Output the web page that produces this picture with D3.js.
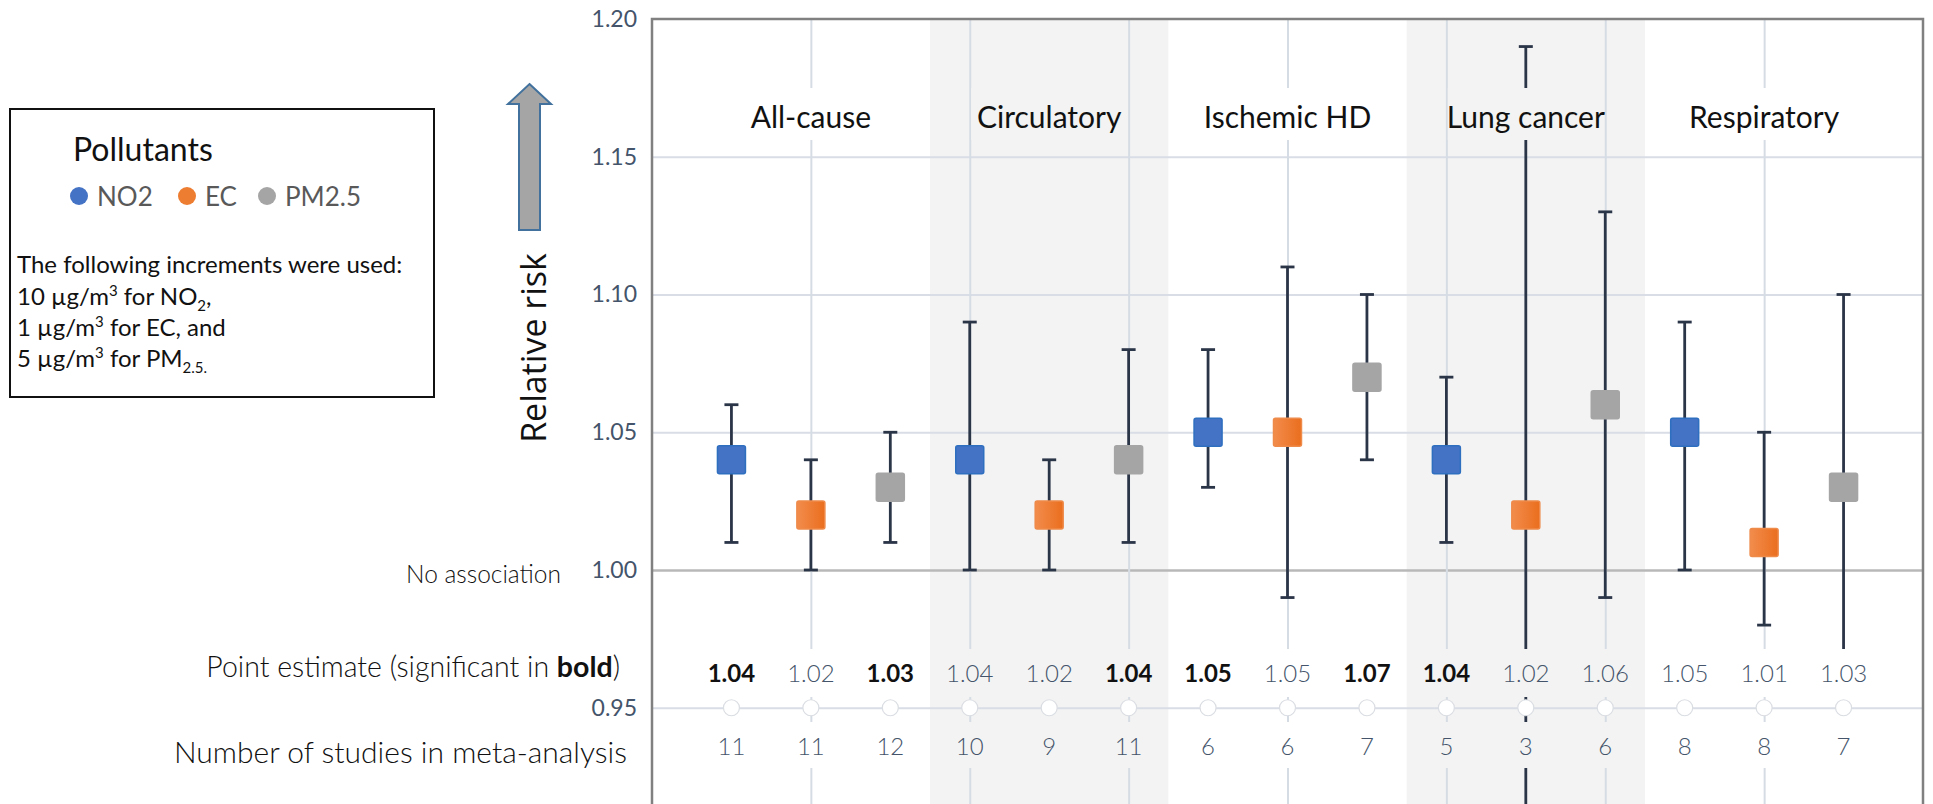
<!DOCTYPE html>
<html>
<head>
<meta charset="utf-8">
<script src="https://cdn.jsdelivr.net/npm/d3@7"></script>
<style>
  body { margin: 0; background: #fff; }
  svg { display: block; font-family: Lato, "Open Sans", sans-serif; }
</style>
</head>
<body>
<div id="chart"></div>
<script>
// data
var categories = ["All-cause", "Circulatory", "Ischemic HD", "Lung cancer", "Respiratory"];
var pollutants = ["NO2", "EC", "PM2.5"];
var shaded = ["Circulatory", "Lung cancer"];
var estimates = [1.04, 1.02, 1.03, 1.04, 1.02, 1.04, 1.05, 1.05, 1.07, 1.04, 1.02, 1.06, 1.05, 1.01, 1.03];
var lower = [1.01, 1.00, 1.01, 1.00, 1.00, 1.01, 1.03, 0.99, 1.04, 1.01, 0.87, 0.99, 1.00, 0.98, 0.97];
var upper = [1.06, 1.04, 1.05, 1.09, 1.04, 1.08, 1.08, 1.11, 1.10, 1.07, 1.19, 1.13, 1.09, 1.05, 1.10];
var significant = [true, false, true, false, false, true, true, false, true, true, false, false, false, false, false];
var studies = [11, 11, 12, 10, 9, 11, 6, 6, 7, 5, 3, 6, 8, 8, 7];
var yTicks = [0.95, 1.00, 1.05, 1.10, 1.15, 1.20];

var W = 1933, H = 804;
var plotLeft = 652, plotRight = 1923, plotTop = 19;

var points = estimates.map(function (d, i) {
    return {
        i: i,
        cat: categories[Math.floor(i / 3)],
        pol: pollutants[i % 3],
        est: d, lo: lower[i], hi: upper[i],
        sig: significant[i], n: studies[i]
    };
});

var x = d3.scaleLinear().domain([0, 16]).range([plotLeft, plotRight]);
var y = d3.scaleLinear().domain([0.90, 1.20]).range([845.5, plotTop]);
var plotBottom = y(0.90);
var step = x(1) - x(0);

var color = d3.scaleOrdinal().domain(pollutants).range(["#4472C4", "url(#orangeGrad)", "#A5A5A5"]);
var stroke = d3.scaleOrdinal().domain(pollutants).range(["#2F6FC0", "#EE8A4A", "#A5A5A5"]);
var legendColor = d3.scaleOrdinal().domain(pollutants).range(["#4472C4", "#ED7D31", "#A5A5A5"]);

function bg(cat) { return shaded.indexOf(cat) >= 0 ? "#F3F3F3" : "#FFFFFF"; }

var svg = d3.select("#chart").append("svg")
    .attr("width", W).attr("height", H);

var defs = svg.append("defs");
var grad = defs.append("linearGradient").attr("id", "orangeGrad");
grad.append("stop").attr("offset", "0%").attr("stop-color", "#F28C4C");
grad.append("stop").attr("offset", "100%").attr("stop-color", "#EA6E1E");

// shaded category bands
svg.selectAll(".band")
    .data(categories.filter(function (c) { return shaded.indexOf(c) >= 0; }))
    .enter().append("rect")
    .attr("x", function (c) { return x(categories.indexOf(c) * 3 + 0.5); })
    .attr("y", plotTop)
    .attr("width", step * 3)
    .attr("height", plotBottom - plotTop)
    .style("fill", "#F3F3F3");

// horizontal grid
svg.append("g")
    .attr("transform", "translate(" + plotLeft + ",0)")
    .call(d3.axisLeft(y).tickValues(yTicks.filter(function (t) { return t < 1.2; })).tickSize(-(plotRight - plotLeft)).tickFormat(""))
    .call(function (g) { g.select(".domain").remove(); })
    .selectAll("line")
    .style("stroke", function (d) { return d === 1 ? "#B8B8B8" : "#D9DEE6"; })
    .style("stroke-width", function (d) { return d === 1 ? 2.5 : 2; });

// vertical grid at every second point
svg.append("g")
    .attr("transform", "translate(0," + plotBottom + ")")
    .call(d3.axisBottom(x).tickValues([2, 4, 6, 8, 10, 12, 14]).tickSize(-(plotBottom - plotTop)).tickFormat(""))
    .call(function (g) { g.select(".domain").remove(); })
    .selectAll("line")
    .style("stroke", "#D6DCE4")
    .style("stroke-width", 2);

// error bars
var bars = svg.append("g").selectAll("g")
    .data(points).enter().append("g")
    .style("stroke", "#2B3548")
    .style("stroke-width", 2.8);

bars.append("line")
    .attr("x1", function (d) { return x(d.i + 1); })
    .attr("x2", function (d) { return x(d.i + 1); })
    .attr("y1", function (d) { return y(d.hi); })
    .attr("y2", function (d) { return Math.min(y(d.lo), plotBottom); });

bars.append("line")
    .attr("x1", function (d) { return x(d.i + 1) - 7; })
    .attr("x2", function (d) { return x(d.i + 1) + 7; })
    .attr("y1", function (d) { return y(d.hi); })
    .attr("y2", function (d) { return y(d.hi); });

bars.filter(function (d) { return y(d.lo) < plotBottom; }).append("line")
    .attr("x1", function (d) { return x(d.i + 1) - 7; })
    .attr("x2", function (d) { return x(d.i + 1) + 7; })
    .attr("y1", function (d) { return y(d.lo); })
    .attr("y2", function (d) { return y(d.lo); });

// label boxes that break the lines behind the texts
svg.append("g").selectAll("rect")
    .data(categories).enter().append("rect")
    .attr("x", function (c, k) { return x(k * 3 + 2) - 78; })
    .attr("y", 88)
    .attr("width", 156)
    .attr("height", 52)
    .style("fill", function (c) { return bg(c); });

svg.append("g").selectAll("rect")
    .data(points).enter().append("rect")
    .attr("x", function (d) { return x(d.i + 1) - 30; })
    .attr("y", 649)
    .attr("width", 60)
    .attr("height", 48)
    .style("fill", function (d) { return bg(d.cat); });

svg.append("g").selectAll("rect")
    .data(points).enter().append("rect")
    .attr("x", function (d) { return x(d.i + 1) - 30; })
    .attr("y", 722)
    .attr("width", 60)
    .attr("height", 46)
    .style("fill", function (d) { return bg(d.cat); });

// white dots on the 0.95 line
svg.append("g").selectAll("circle")
    .data(points).enter().append("circle")
    .attr("cx", function (d) { return x(d.i + 1); })
    .attr("cy", y(0.95))
    .attr("r", 8)
    .style("fill", "#fff")
    .style("stroke", "#DADDE2")
    .style("stroke-width", 1.2);

// point estimates
svg.append("g").selectAll("rect")
    .data(points).enter().append("rect")
    .attr("x", function (d) { return x(d.i + 1) - 14; })
    .attr("y", function (d) { return y(d.est) - 14; })
    .attr("width", 28)
    .attr("height", 28)
    .attr("rx", 2)
    .style("fill", function (d) { return color(d.pol); })
    .style("stroke", function (d) { return stroke(d.pol); })
    .style("stroke-width", 1.5);

// category titles
svg.append("g").selectAll("text")
    .data(categories).enter().append("text")
    .attr("x", function (c, k) { return x(k * 3 + 2); })
    .attr("y", 128)
    .attr("text-anchor", "middle")
    .style("font-size", "30px")
    .style("fill", "#111")
    .text(function (c) { return c; });

// point estimate labels
svg.append("g").selectAll("text")
    .data(points).enter().append("text")
    .attr("x", function (d) { return x(d.i + 1); })
    .attr("y", 682)
    .attr("text-anchor", "middle")
    .style("font-size", "24px")
    .style("font-weight", function (d) { return d.sig ? 700 : 300; })
    .style("fill", function (d) { return d.sig ? "#111" : "#44546A"; })
    .text(function (d) { return d3.format(".2f")(d.est); });

// number of studies
svg.append("g").selectAll("text")
    .data(points).enter().append("text")
    .attr("x", function (d) { return x(d.i + 1); })
    .attr("y", 755)
    .attr("text-anchor", "middle")
    .style("font-size", "24px")
    .style("font-weight", 300)
    .style("fill", "#44546A")
    .text(function (d) { return d.n; });

// y axis labels
svg.append("g")
    .attr("transform", "translate(" + plotLeft + ",0)")
    .call(d3.axisLeft(y).tickValues(yTicks).tickSize(0).tickPadding(15).tickFormat(d3.format(".2f")))
    .call(function (g) { g.select(".domain").remove(); })
    .selectAll("text")
    .style("font-family", "Lato, sans-serif")
    .style("font-size", "23px")
    .style("fill", "#44546A");

// plot frame
svg.append("path")
    .attr("d", "M" + plotLeft + "," + plotBottom + "V" + plotTop + "H" + plotRight + "V" + plotBottom)
    .style("fill", "none")
    .style("stroke", "#808080")
    .style("stroke-width", 2.5);

// row labels on the left
var rowLabels = svg.append("g").style("fill", "#111").style("font-weight", 300)
    .attr("text-anchor", "end");
rowLabels.append("text").attr("x", 561).attr("y", 583).style("font-size", "24.5px").text("No association");
var pe = rowLabels.append("text").attr("x", 620).attr("y", 677).style("font-size", "28.5px");
pe.append("tspan").text("Point estimate (significant in ");
pe.append("tspan").style("font-weight", 700).text("bold");
pe.append("tspan").text(")");
rowLabels.append("text").attr("x", 627).attr("y", 763).style("font-size", "30px").text("Number of studies in meta-analysis");

// relative risk arrow
var arrow = [[529.5, 84], [551, 104], [540, 104], [540, 230], [519, 230], [519, 104], [508, 104]];
svg.append("path")
    .attr("d", d3.line()(arrow) + "Z")
    .style("fill", "#A5A5A5")
    .style("stroke", "#41719C")
    .style("stroke-width", 2);

svg.append("text")
    .attr("transform", "translate(546,348) rotate(-90)")
    .attr("text-anchor", "middle")
    .style("font-family", "'Open Sans', sans-serif")
    .style("font-size", "34px")
    .style("fill", "#111")
    .text("Relative risk");

// legend box
var lg = svg.append("g");
lg.append("rect")
    .attr("x", 10).attr("y", 109).attr("width", 424).attr("height", 288)
    .style("fill", "#fff").style("stroke", "#111").style("stroke-width", 2);

lg.append("text").attr("x", 73).attr("y", 161)
    .style("font-size", "32px").style("fill", "#111").text("Pollutants");

var legendX = [79, 187, 267];
var items = lg.selectAll(".item").data(pollutants).enter().append("g");
items.append("circle")
    .attr("cx", function (d, i) { return legendX[i]; })
    .attr("cy", 196)
    .attr("r", 9)
    .style("fill", function (d) { return legendColor(d); });
items.append("text")
    .attr("x", function (d, i) { return legendX[i] + 18; })
    .attr("y", 206)
    .style("font-size", "26px")
    .style("fill", "#595959")
    .text(function (d) { return d; });

var note = lg.append("g").style("font-size", "24px").style("fill", "#111");
note.append("text").attr("x", 17).attr("y", 273).text("The following increments were used:");

function unitLine(yy, pre, unitSub, post) {
    var t = note.append("text").attr("x", 17).attr("y", yy);
    t.append("tspan").text(pre + " \u00b5g/m");
    t.append("tspan").attr("dy", -9).style("font-size", "15px").text("3");
    t.append("tspan").attr("dy", 9).text(" for " + unitSub[0]);
    if (unitSub[1]) {
        t.append("tspan").attr("dy", 6).style("font-size", "15px").text(unitSub[1]);
        t.append("tspan").attr("dy", -6).text(post);
    } else {
        t.append("tspan").text(post);
    }
}
unitLine(305, "10", ["NO", "2"], ",");
unitLine(336, "1", ["EC", ""], ", and");
unitLine(367, "5", ["PM", "2.5."], "");
</script>
</body>
</html>
